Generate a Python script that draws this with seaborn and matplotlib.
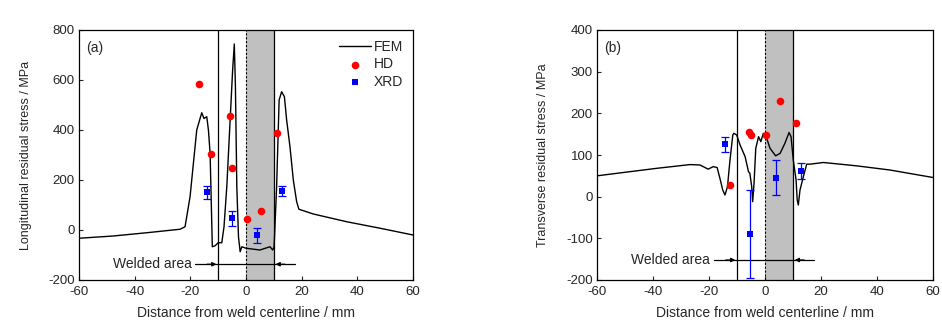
import matplotlib
matplotlib.use("Agg")
import matplotlib.pyplot as plt
import seaborn as sns
import pandas as pd
import numpy as np

sns.set_style("ticks")
plt.rcParams['font.family'] = ['Liberation Sans', 'DejaVu Sans']
plt.rcParams['axes.unicode_minus'] = False

# ---- data (a) longitudinal ----
fem_a_x = [-60, -47.7, -35.7, -23.7, -21.9, -20.1, -17.7, -15.9, -15.1, -14.1, -13.5, -12.9, -12.1,
           -11.1, -10, -8.7, -7.9, -6.9, -5.7, -4.8, -4.2, -3.8, -3.3, -2.7, -2.1, -1.5, 0, 5.0,
           8.6, 9.6, 10.1, 11.0, 11.9, 12.8, 13.8, 14.6, 15.8, 17.0, 18.2, 19.0, 24.2, 36.2, 48.2, 60]
fem_a_y = [-33, -24, -11, 3, 13, 133, 400, 469, 446, 453, 400, 307, -67,
           -63, -51, -51, 13, 173, 440, 640, 744, 573, 173, -27, -87, -67, -73, -80,
           -67, -80, -67, 173, 520, 553, 533, 440, 333, 200, 113, 83, 64, 33, 7, -20]
hd_a_x = [-16.8, -12.5, -5.6, -5.1, 0.5, 5.4, 11.3]
hd_a_y = [583, 303, 456, 247, 45, 76, 387]
xrd_a_x = [-14.1, -5.1, 4.0, 12.9]
xrd_a_y = [151, 47, -21, 156]
xrd_a_err = [26, 31, 29, 20]

# ---- data (b) transverse ----
fem_b_x = [-60, -50.6, -38.7, -26.8, -23.2, -20.3, -18.5, -17.1, -16.1, -15.1, -14.3, -13.4, -12.5,
           -11.5, -11.1, -10.1, -8.9, -7.1, -5.9, -5.4, -4.75, -4.4, -3.9, -3.3, -2.3, -1.5, -0.6,
           0.6, 1.8, 3.8, 5.4, 7.1, 8.6, 9.3, 10.1, 11.1, 11.5, 11.9, 12.5, 13.7, 14.9, 16.1,
           18.5, 20.8, 26.8, 32.7, 44.6, 60]
fem_b_y = [50, 58, 68, 77, 76, 66, 72, 70, 44, 16, 4, 24, 88,
           148, 152, 148, 124, 96, 60, 56, 24, -12, 34, 116, 144, 132, 152,
           140, 116, 98, 104, 128, 154, 144, 88, 40, -8, -20, 16, 48, 78, 78,
           80, 82, 78, 74, 64, 46]
hd_b_x = [-12.5, -5.7, -5.1, 0.4, 5.3, 11.2]
hd_b_y = [28, 156, 148, 147, 229, 177]
xrd_b_x = [-14.2, -5.25, 3.9, 12.75]
xrd_b_y = [126, -89, 46, 62]
xrd_b_err = [18, 105, 43, 19]

xticks = [-60, -40, -20, 0, 20, 40, 60]

fig = plt.figure(figsize=(9.42, 3.30), dpi=100)
ax_a = fig.add_axes([79/942, 1-280/330, 334/942, 250/330])
ax_b = fig.add_axes([597/942, 1-280/330, 336/942, 250/330])

TICK_FS = 9.5
TEXT_FS = 10

def draw(ax, fx, fy, hx, hy, xx, xy, xe, ylim, yticks, ylabel, tag, weld_y, legend):
    ax.axvspan(0, 10, color='#c0c0c0', lw=0, zorder=0)
    ax.axvline(-10, color='black', lw=0.9, zorder=1)
    ax.axvline(10, color='black', lw=0.9, zorder=1)
    ax.axvline(0, color='black', lw=0.8, ls=(0, (2, 1.5)), zorder=1)
    sns.lineplot(x=fx, y=fy, ax=ax, color='black', lw=1.0, sort=False,
                 estimator=None, label='FEM' if legend else None, zorder=3)
    sns.scatterplot(x=hx, y=hy, ax=ax, color='#ff0000', marker='o', s=30,
                    edgecolor='#ff0000', linewidth=0, label='HD' if legend else None, zorder=4)
    ax.errorbar(xx, xy, yerr=xe, fmt='none', ecolor='#0000ff', elinewidth=0.9,
                capsize=3, capthick=0.9, zorder=4)
    sns.scatterplot(x=xx, y=xy, ax=ax, color='#0000ff', marker='s', s=24,
                    edgecolor='#0000ff', linewidth=0, label='XRD' if legend else None, zorder=5)
    # welded area annotation
    ax.plot([-18.3, 17.6], [weld_y, weld_y], color='black', lw=0.9, zorder=2)
    ax.annotate('', xy=(-10.6, weld_y), xytext=(-14, weld_y),
                arrowprops=dict(arrowstyle='-|>', color='black', lw=0.9,
                                mutation_scale=6, shrinkA=0, shrinkB=0))
    ax.annotate('', xy=(10.6, weld_y), xytext=(14, weld_y),
                arrowprops=dict(arrowstyle='-|>', color='black', lw=0.9,
                                mutation_scale=6, shrinkA=0, shrinkB=0))
    ax.text(-19.6, weld_y, 'Welded area', ha='right', va='center', fontsize=TEXT_FS)
    ax.text(0.022, 0.955, tag, transform=ax.transAxes, ha='left', va='top', fontsize=TEXT_FS)
    ax.set_xlim(-60, 60)
    ax.set_ylim(*ylim)
    ax.set_xticks(xticks)
    ax.set_yticks(yticks)
    ax.tick_params(direction='in', length=3, width=0.8, labelsize=TICK_FS,
                   top=False, right=False)
    ax.tick_params(axis='x', pad=4)
    ax.tick_params(axis='y', pad=3)
    for s in ax.spines.values():
        s.set_visible(True)
        s.set_linewidth(0.9)
        s.set_color('black')
    ax.set_xlabel('Distance from weld centerline / mm', fontsize=TEXT_FS, labelpad=6)
    ax.set_ylabel(ylabel, fontsize=9, labelpad=12)
    if legend:
        ax.legend(loc='upper right', frameon=False, fontsize=TEXT_FS,
                  handlelength=2.3, handletextpad=0.2, labelspacing=0.26,
                  borderaxespad=0.3)
    else:
        lg = ax.get_legend()
        if lg is not None:
            lg.remove()

draw(ax_a, fem_a_x, fem_a_y, hd_a_x, hd_a_y, xrd_a_x, xrd_a_y, xrd_a_err,
     (-200, 800), [-200, 0, 200, 400, 600, 800],
     'Longitudinal residual stress / MPa', '(a)', -137, True)
draw(ax_b, fem_b_x, fem_b_y, hd_b_x, hd_b_y, xrd_b_x, xrd_b_y, xrd_b_err,
     (-200, 400), [-200, -100, 0, 100, 200, 300, 400],
     'Transverse residual stress / MPa', '(b)', -152, False)

fig.savefig('out.png', dpi=100)
